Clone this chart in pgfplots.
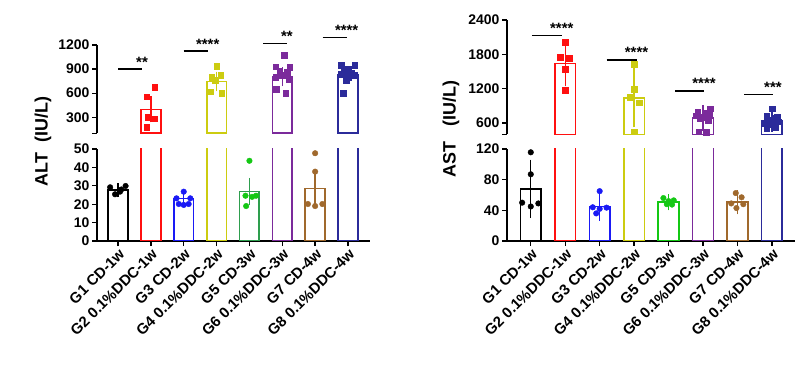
\documentclass[border=0pt]{standalone}
\usepackage{pgfplots}
\pgfplotsset{compat=1.18}
\usepackage{fontspec}
\setmainfont{Liberation Sans}
\definecolor{cRed}{HTML}{FF1010}
\definecolor{cBlue}{HTML}{1A1AF5}
\definecolor{cYel}{HTML}{CCCC10}
\definecolor{cGreenB}{HTML}{2E9E4E}
\definecolor{cGreenP}{HTML}{14C814}
\definecolor{cPur}{HTML}{7B2A9B}
\definecolor{cBrown}{HTML}{A0692D}
\definecolor{cNavy}{HTML}{2B2B9A}
\pgfplotsset{
  base/.style={
    scale only axis, clip mode=individual,
    axis line style={-, line width=1.3pt},
    tick style={line width=1.3pt, black},
    tick align=outside, major tick length=5bp,
    tick label style={font=\fontsize{14}{16}\selectfont\bfseries},
    yticklabel style={xshift=1bp},
  },
  mybar/.style={ybar, bar width=0.6, bar shift=0pt, draw=#1, fill=white, line width=1.6pt,
    error bars/.cd, y dir=both, y explicit,
    error bar style={line width=1.4pt, #1},
    error mark options={line width=1.4pt, #1, mark size=5.5bp}},
  mydots/.style={only marks, mark=*, mark size=2.8bp, #1, mark options={fill=#1, draw=#1}},
  mysq/.style={only marks, mark=square*, mark size=2.8bp, #1, mark options={fill=#1, draw=#1}},
  cats/.style={xtick={0,1,2,3,4,5,6,7},
  xticklabels={\textbf{G1 CD-1w}, \textbf{G2 0.1\%DDC-1w}, \textbf{G3 CD-2w}, \textbf{G4 0.1\%DDC-2w}, \textbf{G5 CD-3w}, \textbf{G6 0.1\%DDC-3w}, \textbf{G7 CD-4w}, \textbf{G8 0.1\%DDC-4w}},
  xticklabel style={rotate=45, anchor=north east, inner sep=1bp, font=\fontsize{15}{17}\selectfont\bfseries}},
}
\tikzset{sig/.style={line width=1.4pt}}
\newcommand{\stars}[1]{node[anchor=base, yshift=2bp, inner sep=0pt, font=\fontsize{15}{17}\selectfont\bfseries]{\textbf{#1}}}
\begin{document}
\begin{tikzpicture}
\useasboundingbox (0,0) rectangle (812bp,376bp);
% ===== ALT upper =====
\begin{axis}[base, at={(97bp,242.7bp)}, anchor=south west, width=273bp, height=88.3bp,
  xmin=-0.64, xmax=7.67, ymin=100, ymax=1200,
  axis x line=none, axis y line*=left,
  ytick={100,300,600,900,1200}, yticklabels={,\textbf{300},\textbf{600},\textbf{900},\textbf{1200}}]
\addplot[mybar=cRed] coordinates {(1,398) +- (0,93)};
\addplot[mysq=cRed] coordinates {(1.12,671) (0.87,554) (0.91,304) (1.12,283) (0.87,179)};
\addplot[mybar=cYel] coordinates {(3,746) +- (0,55)};
\addplot[mysq=cYel] coordinates {(3.0,937) (2.85,800) (3.12,820) (2.95,760) (2.82,620) (3.15,600)};
\addplot[mybar=cPur] coordinates {(5,805) +- (0,48)};
\addplot[mysq=cPur] coordinates {(5.05,1075) (4.8,930) (5.22,925) (4.92,880) (5.15,860) (5.0,820) (4.8,800) (5.2,770) (4.82,650) (5.1,600)};
\addplot[mybar=cNavy] coordinates {(7,830) +- (0,35)};
\addplot[mysq=cNavy] coordinates {(7.2,945) (6.8,945) (7.0,900) (6.88,860) (7.1,850) (6.8,835) (7.2,820) (7.0,800) (6.95,760) (6.85,600)};
\draw[sig] (axis cs:0,900) -- (axis cs:0.73,900) \stars{**};
\draw[sig] (axis cs:2,1125) -- (axis cs:2.73,1125) \stars{****};
\draw[sig] (axis cs:4.42,1221) -- (axis cs:5.14,1221) \stars{**};
\draw[sig] (axis cs:6.23,1296) -- (axis cs:6.96,1296) \stars{****};
\end{axis}
% ===== ALT lower =====
\begin{axis}[base, cats, at={(97bp,135bp)}, anchor=south west, width=273bp, height=92bp,
  xmin=-0.64, xmax=7.67, ymin=0, ymax=50,
  axis x line*=bottom, axis y line*=left,
  ytick={0,10,20,30,40,50}, yticklabels={\textbf{0},\textbf{10},\textbf{20},\textbf{30},\textbf{40},\textbf{50}}]
\addplot[mybar=black] coordinates {(0,27.6) +- (0,0.9)};
\addplot[mydots=black] coordinates {(-0.24,29.2) (-0.09,25.4) (0.06,26.8) (0.23,29.9) (0.1,28.0)};
\addplot[mybar=cRed] coordinates {(1,398)};
\addplot[mybar=cBlue] coordinates {(2,23.0) +- (0,1.5)};
\addplot[mydots=cBlue] coordinates {(2.0,26.8) (1.78,23.2) (2.2,23.2) (1.85,20.1) (2.0,19.6) (2.15,20.1)};
\addplot[mybar=cYel] coordinates {(3,746)};
\addplot[mybar=cGreenB] coordinates {(4,26.8) +- (0,4.5)};
\addplot[mydots=cGreenP] coordinates {(4.0,43.6) (3.88,24.6) (4.2,24.6) (3.9,19.0) (4.08,24.0)};
\addplot[mybar=cPur] coordinates {(5,805)};
\addplot[mybar=cBrown] coordinates {(6,28.6) +- (0,5.8)};
\addplot[mydots=cBrown] coordinates {(6.0,47.7) (6.0,37.7) (5.78,20.1) (6.0,19.0) (6.22,20.1)};
\addplot[mybar=cNavy] coordinates {(7,830)};
\end{axis}
\node[rotate=90, font=\fontsize{18}{20}\selectfont\bfseries] at (43bp,234.5bp) {ALT\ \ (IU/L)};
% ===== AST upper =====
\begin{axis}[base, at={(507bp,241.6bp)}, anchor=south west, width=288bp, height=114.4bp,
  xmin=-0.69, xmax=7.67, ymin=400, ymax=2400,
  axis x line=none, axis y line*=left,
  ytick={400,600,1200,1800,2400}, yticklabels={,\textbf{600},\textbf{1200},\textbf{1800},\textbf{2400}}]
\addplot[mybar=cRed] coordinates {(1,1642) +- (0,306)};
\addplot[mysq=cRed] coordinates {(1.0,2010) (0.85,1745) (1.12,1730) (1.0,1542) (1.0,1175)};
\addplot[mybar=cYel] coordinates {(3,1040) +- (0,422)};
\addplot[mysq=cYel] coordinates {(3.0,1630) (3.0,1192) (2.88,1047) (3.15,953) (3.0,445)};
\addplot[mybar=cPur] coordinates {(5,690) +- (0,130)};
\addplot[mysq=cPur] coordinates {(5.2,850) (4.85,800) (5.05,780) (5.18,760) (4.8,730) (5.0,700) (4.9,680) (5.15,650) (4.88,450) (5.1,440)};
\addplot[mybar=cNavy] coordinates {(7,640) +- (0,100)};
\addplot[mysq=cNavy] coordinates {(7.0,850) (6.85,720) (7.15,700) (7.05,680) (6.9,660) (7.2,620) (6.8,600) (7.0,580) (7.1,520) (6.85,510)};
\draw[sig] (axis cs:0.03,2126) -- (axis cs:0.9,2126) \stars{****};
\draw[sig] (axis cs:2.2,1701) -- (axis cs:3.07,1701) \stars{****};
\draw[sig] (axis cs:4.2,1159) -- (axis cs:5.03,1159) \stars{****};
\draw[sig] (axis cs:6.2,1101) -- (axis cs:7.03,1101) \stars{***};
\end{axis}
% ===== AST lower =====
\begin{axis}[base, cats, at={(507bp,135bp)}, anchor=south west, width=288bp, height=92bp,
  xmin=-0.69, xmax=7.67, ymin=0, ymax=120,
  axis x line*=bottom, axis y line*=left,
  ytick={0,40,80,120}, yticklabels={\textbf{0},\textbf{40},\textbf{80},\textbf{120}}]
\addplot[mybar=black] coordinates {(0,68) +- (0,31)};
\addplot[mydots=black] coordinates {(0.0,115.7) (0.0,87) (-0.25,50) (0.22,49) (0.0,45)};
\addplot[mybar=cRed] coordinates {(1,1642)};
\addplot[mybar=cBlue] coordinates {(2,45) +- (0,11.5)};
\addplot[mydots=cBlue] coordinates {(2.0,65) (1.8,44) (2.2,43.5) (2.0,42) (1.9,36)};
\addplot[mybar=cYel] coordinates {(3,1040)};
\addplot[mybar=cGreenP] coordinates {(4,50.5) +- (0,3.5)};
\addplot[mydots=cGreenP] coordinates {(3.85,56) (4.15,53) (4.0,52) (3.95,48) (4.1,47.5)};
\addplot[mybar=cPur] coordinates {(5,690)};
\addplot[mybar=cBrown] coordinates {(6,50.5) +- (0,8.5)};
\addplot[mydots=cBrown] coordinates {(5.95,62.5) (6.12,57) (5.82,49) (5.97,43) (6.17,48)};
\addplot[mybar=cNavy] coordinates {(7,640)};
\end{axis}
\node[rotate=90, font=\fontsize{18}{20}\selectfont\bfseries] at (451bp,247bp) {AST\ \ \ (IU/L)};
\end{tikzpicture}
\end{document}
